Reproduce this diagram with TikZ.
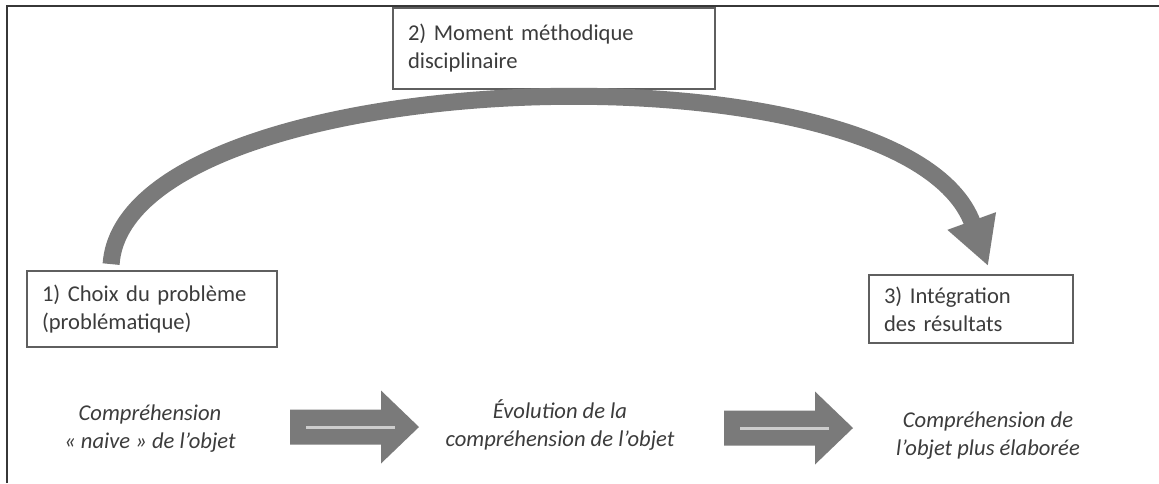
\documentclass[tikz,border=0pt]{standalone}
\usepackage{fontspec}
\setmainfont{Carlito}
\usetikzlibrary{arrows.meta,positioning}
\definecolor{framegray}{RGB}{55,55,55}
\definecolor{boxgray}{RGB}{95,95,95}
\definecolor{arrowgray}{RGB}{122,122,122}
\definecolor{textgray}{RGB}{60,60,60}
\definecolor{stripegray}{RGB}{205,205,205}

\begin{document}
\begin{tikzpicture}[x=0.5pt, y=-0.5pt, font=\fontsize{11.3}{14}\selectfont]
    \tikzset{
        stage/.style        =   { rectangle
                                , draw=boxgray
                                , line width=0.9pt
                                , text=textgray
                                , align=left
                                , inner xsep=7.5pt
        }
        , idea/.style       =   { align=center
                                , text=textgray
                                , font=\fontsize{11.3}{14}\selectfont\itshape
        }
        , detour/.style     =   { draw=arrowgray
                                , line width=8.5pt
                                , -{Triangle[length=24pt, width=24pt]}
        }
        , flatarrow/.style  =   { fill=arrowgray
                                , draw=none
        }
        , stripe/.style     =   { draw=stripegray
                                , line width=1.5pt
        }
    }
    \useasboundingbox (0,0) rectangle (1159,483);
    \draw[framegray, line width=1pt] (7,483) -- (7,6) -- (1159,6);

    \node(choix)[stage, text width=110pt, minimum height=38pt] at (152,309)
        {1) Choix du problème\\(problématique)};
    \node(moment)[stage, text width=146pt, minimum height=40.5pt] at (554,48.5)
        {2) Moment méthodique\\disciplinaire};
    \node(integration)[stage, text width=87pt, minimum height=34pt] at (971,309)
        {3) Intégration\\des résultats};

    \node(naive)[idea] at (150,428.5) {Compréhension\\«~naive~» de l’objet};
    \node(evolution)[idea] at (560,424.5) {Évolution de la\\compréhension de l’objet};
    \node(elaboree)[idea] at (988,435.5) {Compréhension de\\l’objet plus élaborée};

    \draw[detour] ([shift={(85,-6)}]choix.north west)
        .. controls (125,62) and (904,35) .. ([shift={(120,-8)}]integration.north west);

    \foreach \ax/\ay in {290/427, 724/428} {
        \fill[flatarrow] (\ax,\ay-17.5) -- ++(91,0) -- ++(0,-19) -- ++(38,36.5)
            -- ++(-38,36.5) -- ++(0,-19) -- ++(-91,0) -- cycle;
        \draw[stripe] (\ax+16,\ay) -- ++(89,0);
    }
\end{tikzpicture}
\end{document}
